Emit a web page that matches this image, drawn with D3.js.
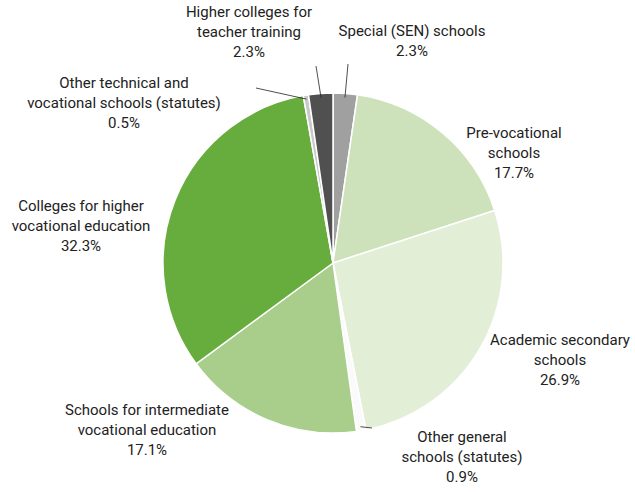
<!DOCTYPE html><html><head><meta charset="utf-8"><script src="https://cdn.jsdelivr.net/npm/d3@7"></script>
<style>body{margin:0;background:#fff}text{font-family:"Liberation Sans Narrow",Roboto,sans-serif;font-size:15px;fill:#222}</style></head><body><svg width="635" height="492"></svg><script>
const categories=["Special (SEN) schools","Pre-vocational schools","Academic secondary schools","Other general schools (statutes)","Schools for intermediate vocational education","Colleges for higher vocational education","Other technical and vocational schools (statutes)","Higher colleges for teacher training"];
const values=[2.3,17.7,26.9,0.9,17.1,32.3,0.5,2.3];
const colors=["#a0a0a0","#cde2bb","#e2eed6","#fafafa","#a9cd8a","#66ad3e","#c9c9c9","#505050"];
const labelLines=[["Special (SEN) schools"],["Pre-vocational","schools"],["Academic secondary","schools"],["Other general","schools (statutes)"],["Schools for intermediate","vocational education"],["Colleges for higher","vocational education"],["Other technical and","vocational schools (statutes)"],["Higher colleges for","teacher training"]];
const labelPos=[[412,36],[514,138],[560,345],[462,442],[147,415],[81,211],[124,88],[249,17]];
const svg=d3.select("svg"),cx=333,cy=263,r=170;
const g=svg.append("g").attr("transform",`translate(${cx},${cy})`);
const arcs=d3.pie().sort(null)(values);
const arc=d3.arc().innerRadius(0).outerRadius(r);
g.selectAll("path").data(arcs).join("path").attr("d",arc).attr("fill",(d,i)=>colors[i]).attr("stroke","#fff").attr("stroke-width",1.5);
// leader lines for small slices
const lead=[[2,null],[3,[370,430]],[6,[230,85]],[7,[318,60]]];
const outer=d3.arc().innerRadius(r-4).outerRadius(r-4);
[[3,[372,428]],[6,[256,88]],[7,[316,66]],[0,[348,64]]].forEach(([i,p])=>{const c=outer.centroid(arcs[i]);g.append("line").attr("x1",c[0]).attr("y1",c[1]).attr("x2",p[0]-cx).attr("y2",p[1]-cy).attr("stroke","#222").attr("stroke-width",0.8);});
categories.forEach((c,i)=>{const [x,y]=labelPos[i];const t=svg.append("text").attr("text-anchor","middle");labelLines[i].concat([d3.format(".1f")(values[i])+"%"]).forEach((l,k)=>t.append("tspan").attr("x",x).attr("y",y+k*20).text(l));});
</script></body></html>
